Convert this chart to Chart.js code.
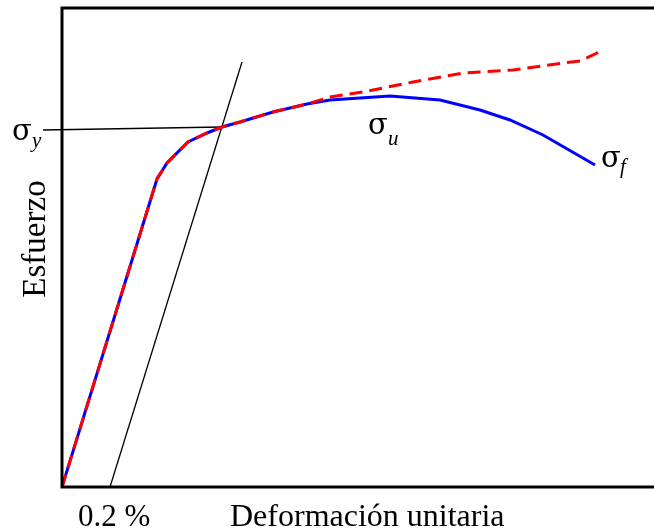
<!DOCTYPE html>
<html>
<head>
<meta charset="utf-8">
<script src="https://cdn.jsdelivr.net/npm/chart.js@4/dist/chart.umd.min.js"></script>
<style>
    html, body { margin: 0; padding: 0; background: #fff; }
    #wrap { width: 654px; height: 529px; }
</style>
</head>
<body>
<div id="wrap"><canvas id="curva"></canvas></div>
<script>
// --- datos (unidades arbitrarias) ---
const ingStrain = [0, 23.75, 26.25, 31.5, 36.25, 40, 44.5, 52.75, 61.25, 67, 82, 94.5, 104.5, 112, 120.25, 133.25];
const ingStress = [0, 77, 81, 86.25, 88.5, 90, 91.25, 93.75, 95.75, 96.75, 97.75, 96.75, 94.25, 91.75, 88, 80.5];

const realStrain = [0, 23.75, 26.25, 31.5, 36.25, 40, 44.5, 52.75, 61.25, 67, 75.25, 87.75, 100.25, 112.75, 125.25, 129.5, 133.75, 135.25];
const realStress = [0, 77, 81, 86.25, 88.5, 90, 91.25, 93.75, 95.75, 97.5, 98.75, 101.25, 103.5, 104.25, 106, 106.5, 108.5, 109.75];

const offsetStrain = [12, 45];
const offsetStress = [0, 106.25];

const yieldStrain = [-4.75, 40];
const yieldStress = [89.25, 90];

const xMax = 148;
const yMax = 119.75;

function toPoints(xs, ys) {
    return xs.map((x, i) => ({ x: x, y: ys[i] }));
}

const SERIF = '"Liberation Serif", "Times New Roman", serif';

// marco y etiquetas
const etiquetas = {
    id: 'etiquetas',
    afterDraw(chart) {
        const ctx = chart.ctx;
        const a = chart.chartArea;
        ctx.save();

        // frame: left, top, bottom (no right edge visible)
        ctx.strokeStyle = '#000';
        ctx.lineWidth = 3;
        ctx.beginPath();
        ctx.moveTo(a.right + 2, a.top);
        ctx.lineTo(a.left, a.top);
        ctx.lineTo(a.left, a.bottom);
        ctx.lineTo(a.right + 2, a.bottom);
        ctx.stroke();

        ctx.fillStyle = '#000';
        ctx.textBaseline = 'alphabetic';

        // axis titles
        ctx.textAlign = 'left';
        ctx.font = '31px ' + SERIF;
        ctx.fillText('0.2 %', 78, 526);
        ctx.font = '32px ' + SERIF;
        ctx.fillText('Deformación unitaria', 230, 526);

        ctx.save();
        ctx.translate(45, 239);
        ctx.rotate(-Math.PI / 2);
        ctx.textAlign = 'center';
        ctx.font = '33px ' + SERIF;
        ctx.fillText('Esfuerzo', 0, 0);
        ctx.restore();

        // sigma labels
        const sigma = (x, y, sub, sx, sy) => {
            ctx.font = '29px "DejaVu Serif", serif';
            ctx.textAlign = 'left';
            ctx.fillText('σ', x, y);
            ctx.font = 'italic 21px ' + SERIF;
            ctx.fillText(sub, sx, sy);
        };
        sigma(12, 140, 'y', 32, 147);
        sigma(368, 134, 'u', 388, 145);
        sigma(601, 167, 'f', 620, 173);

        ctx.restore();
    }
};

new Chart(document.getElementById('curva'), {
    type: 'line',
    data: {
        datasets: [
            {
                label: 'Real',
                data: toPoints(realStrain, realStress),
                borderColor: '#ff0000',
                borderWidth: 3,
                borderDash: [13, 7],
                pointRadius: 0,
                tension: 0,
                fill: false,
                order: 0
            },
            {
                label: 'Ingenieria',
                data: toPoints(ingStrain, ingStress),
                borderColor: '#0000ff',
                borderWidth: 3,
                pointRadius: 0,
                tension: 0,
                fill: false,
                order: 1
            },
            {
                label: 'Offset 0.2%',
                data: toPoints(offsetStrain, offsetStress),
                borderColor: '#000',
                borderWidth: 1.3,
                pointRadius: 0,
                tension: 0,
                fill: false,
                order: 2
            },
            {
                label: 'Fluencia',
                data: toPoints(yieldStrain, yieldStress),
                borderColor: '#000',
                borderWidth: 1.3,
                pointRadius: 0,
                tension: 0,
                fill: false,
                clip: false,
                order: 3
            }
        ]
    },
    options: {
        responsive: true,
        maintainAspectRatio: false,
        animation: false,
        layout: {
            padding: { left: 62, top: 8, right: 0, bottom: 42 }
        },
        scales: {
            x: { type: 'linear', min: 0, max: xMax, display: false },
            y: { type: 'linear', min: 0, max: yMax, display: false }
        },
        plugins: {
            legend: { display: false },
            tooltip: { enabled: false }
        }
    },
    plugins: [etiquetas]
});
</script>
</body>
</html>
